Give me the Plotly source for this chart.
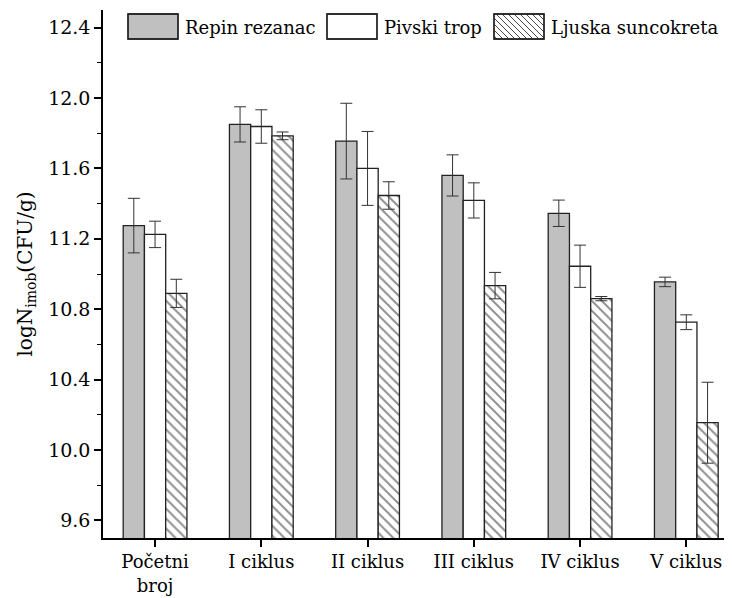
import plotly.graph_objects as go

categories = ["Početni<br>broj", "I ciklus", "II ciklus", "III ciklus", "IV ciklus", "V ciklus"]
series_names = ["Repin rezanac", "Pivski trop", "Ljuska suncokreta"]
repin = [11.275, 11.85, 11.755, 11.56, 11.345, 10.955]
repin_err = [0.155, 0.10, 0.215, 0.117, 0.075, 0.027]
pivski = [11.225, 11.838, 11.60, 11.418, 11.044, 10.726]
pivski_err = [0.075, 0.095, 0.21, 0.10, 0.12, 0.042]
ljuska = [10.89, 11.785, 11.446, 10.934, 10.86, 10.155]
ljuska_err = [0.08, 0.022, 0.078, 0.075, 0.012, 0.23]

FONT = "DejaVu Serif"
x = list(range(len(categories)))

# page body has an 8px margin; figure laid out so the plot area sits at px 103..732, 10..538
W, H = 724, 590
ML, MR, MT, MB = 95, 0, 2, 60
PX0, PY0 = 8 + ML, 8 + MT
PW, PH = W - ML - MR, H - MT - MB


def px(xpix):
    return (xpix - PX0) / PW


def py(ypix):
    return (PY0 + PH - ypix) / PH


fig = go.Figure()
fig.add_trace(go.Bar(
    x=x, y=repin, name=series_names[0],
    marker=dict(color="#c0c0c0", line=dict(color="#222", width=1.3)),
    error_y=dict(type="data", array=repin_err, color="#333", thickness=1, width=6),
))
fig.add_trace(go.Bar(
    x=x, y=pivski, name=series_names[1],
    marker=dict(color="white", line=dict(color="#222", width=1.3)),
    error_y=dict(type="data", array=pivski_err, color="#333", thickness=1, width=6),
))
fig.add_trace(go.Bar(
    x=x, y=ljuska, name=series_names[2],
    marker=dict(color="white", line=dict(color="#222", width=1.3),
                pattern=dict(shape="\\", fgcolor="#222", bgcolor="white", size=7, solidity=0.28)),
    error_y=dict(type="data", array=ljuska_err, color="#333", thickness=1, width=6),
))

# custom legend (large swatches like the original)
shapes = []
annotations = []
box_left = [128, 327, 494]
fills = ["#c0c0c0", "white", "white"]
BY0, BY1 = 14, 39
for i, name in enumerate(series_names):
    bx0 = box_left[i]
    bx1 = bx0 + 50
    if i == 2:
        step = 6
        c = -(bx1 - bx0)
        while c < (BY1 - BY0):
            xa = max(bx0, bx0 - c)
            xb = min(bx1, bx0 + (BY1 - BY0) - c)
            if xb > xa:
                ya = BY0 + (xa - bx0) + c
                yb = BY0 + (xb - bx0) + c
                shapes.append(dict(type="line", xref="paper", yref="paper",
                                   x0=px(xa), y0=py(ya), x1=px(xb), y1=py(yb),
                                   line=dict(color="#333", width=0.9)))
            c += step
    shapes.insert(0, dict(type="rect", xref="paper", yref="paper",
                          x0=px(bx0), x1=px(bx1), y0=py(BY1), y1=py(BY0),
                          fillcolor=fills[i], line=dict(color="#222", width=1.3), layer="below"))
    shapes.append(dict(type="rect", xref="paper", yref="paper",
                       x0=px(bx0), x1=px(bx1), y0=py(BY1), y1=py(BY0),
                       fillcolor="rgba(0,0,0,0)", line=dict(color="#222", width=1.3)))
    annotations.append(dict(text=name, xref="paper", yref="paper", x=px(bx1 + 5), y=py(27),
                            xanchor="left", yanchor="middle", showarrow=False,
                            font=dict(family=FONT, size=18, color="black")))

fig.update_layout(
    width=W, height=H,
    margin=dict(l=ML, r=MR, t=MT, b=MB),
    paper_bgcolor="white", plot_bgcolor="white",
    barmode="group", bargap=0.4, bargroupgap=0,
    font=dict(family=FONT, size=18, color="black"),
    showlegend=False,
    shapes=shapes, annotations=annotations,
    xaxis=dict(
        range=[-0.49, 5.43], tickmode="array", tickvals=x, ticktext=categories,
        showline=True, linecolor="black", linewidth=1.5, mirror=False,
        ticks="outside", ticklen=7, tickwidth=1.5, tickcolor="black",
        showgrid=False, zeroline=False, automargin=False,
        tickfont=dict(family=FONT, size=18),
    ),
    yaxis=dict(
        range=[9.5, 12.5], tickmode="array",
        tickvals=[9.6, 10.0, 10.4, 10.8, 11.2, 11.6, 12.0, 12.4],
        ticktext=["9.6", "10.0", "10.4", "10.8", "11.2", "11.6", "12.0", "12.4"],
        showline=True, linecolor="black", linewidth=1.5,
        ticks="outside", ticklen=7, tickwidth=1.5, tickcolor="black",
        minor=dict(tickvals=[9.8, 10.2, 10.6, 11.0, 11.4, 11.8, 12.2], ticks="outside",
                   ticklen=4, tickwidth=1.2, tickcolor="black"),
        showgrid=False, zeroline=False, automargin=False,
        tickfont=dict(family=FONT, size=19),
        title=dict(text="logN<sub>imob</sub>(CFU/g)", font=dict(family=FONT, size=20), standoff=10),
    ),
)

fig.write_html("out.html")
